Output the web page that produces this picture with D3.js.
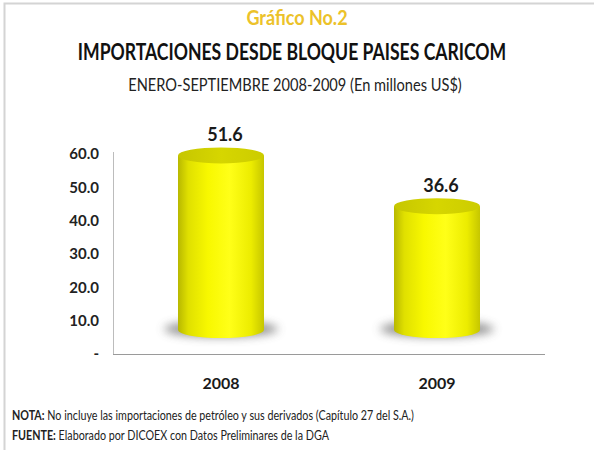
<script src="https://cdn.jsdelivr.net/npm/d3@7"></script>

<style>
  body { margin: 0; background: #fff; }
  text { font-family: Lato, "Open Sans", sans-serif; }
</style>

<svg id="vis"></svg>

<script>
  // Data Setup
  var years = ['2008', '2009'];
  var imports = [51.6, 36.6];
  var yTicks = [0, 10, 20, 30, 40, 50, 60];

  var W = 594, H = 450;

  var svg = d3.select('#vis')
    .attr('width', W)
    .attr('height', H)

  // Frame (light gray on top and left)
  svg.append('path')
    .attr('d', 'M4.5,' + H + 'V3.5H' + W)
    .attr('fill', 'none')
    .attr('stroke', '#d4d4d4')
    .attr('stroke-width', 2)

  // Lato is wider than the original font, so squeeze text a bit horizontally
  function narrowText(px, py, sx, anchor) {
    return svg.append('text')
      .attr('transform', 'translate(' + px + ',' + py + ') scale(' + sx + ',1)')
      .attr('text-anchor', anchor)
  }

  // Titles
  narrowText(297, 25, 0.9, 'middle')
    .attr('font-size', 20).attr('font-weight', 'bold')
    .attr('fill', '#ecc22a')
    .text('Gráfico No.2')

  narrowText(292, 60, 0.8, 'middle')
    .attr('font-size', 22).attr('font-weight', 'bold')
    .attr('fill', '#111')
    .text('IMPORTACIONES DESDE BLOQUE PAISES CARICOM')

  narrowText(295, 91, 0.86, 'middle')
    .attr('font-size', 17)
    .attr('fill', '#222')
    .text('ENERO-SEPTIEMBRE 2008-2009 (En millones US$)')

  // Scales
  var x = d3.scaleBand()
    .domain(years)
    .range([113, 545])
    .padding(0)

  // back wall (axis) scale
  var y = d3.scaleLinear()
    .domain([0, 60])
    .range([354, 154])

  // front plane scale for the 3D cylinders (perspective shift)
  var yFront = d3.scaleLinear()
    .domain([0, 60])
    .range([330, 127])

  // Axis
  var yAxis = d3.axisLeft(y)
    .tickValues(yTicks)
    .tickSize(0)
    .tickPadding(14)
    .tickFormat(function(d) { return d === 0 ? '-' : d3.format('.1f')(d) })

  var gy = svg.append('g')
    .attr('transform', 'translate(113,0)')
    .call(yAxis)
  gy.select('.domain').attr('stroke', '#bcbcbc').attr('d', 'M0.5,152V354.5')
  gy.selectAll('text')
    .attr('font-family', 'Lato, sans-serif')
    .attr('font-size', 15).attr('font-weight', 'bold')
    .attr('fill', '#222')

  svg.append('line')
    .attr('x1', 113).attr('x2', 545)
    .attr('y1', 354.5).attr('y2', 354.5)
    .attr('stroke', '#9a9a9a')

  // Gradients
  var defs = svg.append('defs')
  var sideGrad = defs.append('linearGradient').attr('id', 'side')
  sideGrad.selectAll('stop')
    .data([[0, '#b8b800'], [0.12, '#e0e000'], [0.35, '#f8f800'], [0.6, '#ffff18'], [0.85, '#ecec00'], [1, '#c6c600']])
    .enter().append('stop')
    .attr('offset', function(d) { return d[0] })
    .attr('stop-color', function(d) { return d[1] })

  var topGrad = defs.append('linearGradient').attr('id', 'cap')
  topGrad.selectAll('stop')
    .data([[0, '#c6c600'], [0.5, '#d6d600'], [1, '#cccc00']])
    .enter().append('stop')
    .attr('offset', function(d) { return d[0] })
    .attr('stop-color', function(d) { return d[1] })

  defs.append('filter').attr('id', 'blur')
    .attr('x', '-50%').attr('y', '-100%').attr('width', '200%').attr('height', '300%')
    .append('feGaussianBlur').attr('stdDeviation', 5)

  var rx = 43, ry = 8;
  var data = years.map(function(d, i) { return {year: d, value: imports[i]} })

  var bars = svg.selectAll('.bar')
    .data(data)
    .enter().append('g')
    .attr('class', 'bar')

  // Shadow
  bars.append('ellipse')
    .attr('cx', function(d) { return x(d.year) + x.bandwidth() / 2 })
    .attr('cy', yFront(0) - 1)
    .attr('rx', rx + 14)
    .attr('ry', 8)
    .attr('fill', '#808080')
    .attr('opacity', 0.85)
    .attr('filter', 'url(#blur)')

  // Cylinder body
  bars.append('path')
    .attr('d', function(d) {
      var cx = x(d.year) + x.bandwidth() / 2
      var yt = yFront(d.value), yb = yFront(0)
      return 'M' + (cx - rx) + ',' + yt +
        'V' + yb +
        'A' + rx + ',' + ry + ' 0 0 0 ' + (cx + rx) + ',' + yb +
        'V' + yt + 'Z'
    })
    .attr('fill', 'url(#side)')

  // Cylinder top
  bars.append('ellipse')
    .attr('cx', function(d) { return x(d.year) + x.bandwidth() / 2 })
    .attr('cy', function(d) { return yFront(d.value) })
    .attr('rx', rx)
    .attr('ry', ry)
    .attr('fill', 'url(#cap)')

  // Value labels
  bars.append('text')
    .attr('x', function(d) { return x(d.year) + x.bandwidth() / 2 + 4 })
    .attr('y', function(d) { return yFront(d.value) - 14 })
    .attr('text-anchor', 'middle')
    .attr('font-size', 18).attr('font-weight', 'bold')
    .attr('fill', '#1a1a1a')
    .text(function(d) { return d3.format('.1f')(d.value) })

  // Category labels
  svg.selectAll('.cat')
    .data(years)
    .enter().append('text')
    .attr('class', 'cat')
    .attr('x', function(d) { return x(d) + x.bandwidth() / 2 })
    .attr('y', 389)
    .attr('text-anchor', 'middle')
    .attr('font-size', 16).attr('font-weight', 'bold')
    .attr('fill', '#1a1a1a')
    .text(function(d) { return d })

  // Footer notes
  var nota = narrowText(12, 420, 0.86, 'start')
    .attr('font-size', 12.5).attr('fill', '#222')
  nota.append('tspan').attr('font-weight', 'bold').text('NOTA:')
  nota.append('tspan').text(' No incluye las importaciones de petróleo y sus derivados (Capítulo 27 del S.A.)')

  var fuente = narrowText(12, 440, 0.86, 'start')
    .attr('font-size', 12.5).attr('fill', '#222')
  fuente.append('tspan').attr('font-weight', 'bold').text('FUENTE:')
  fuente.append('tspan').text(' Elaborado por DICOEX con Datos Preliminares  de la DGA')
</script>
